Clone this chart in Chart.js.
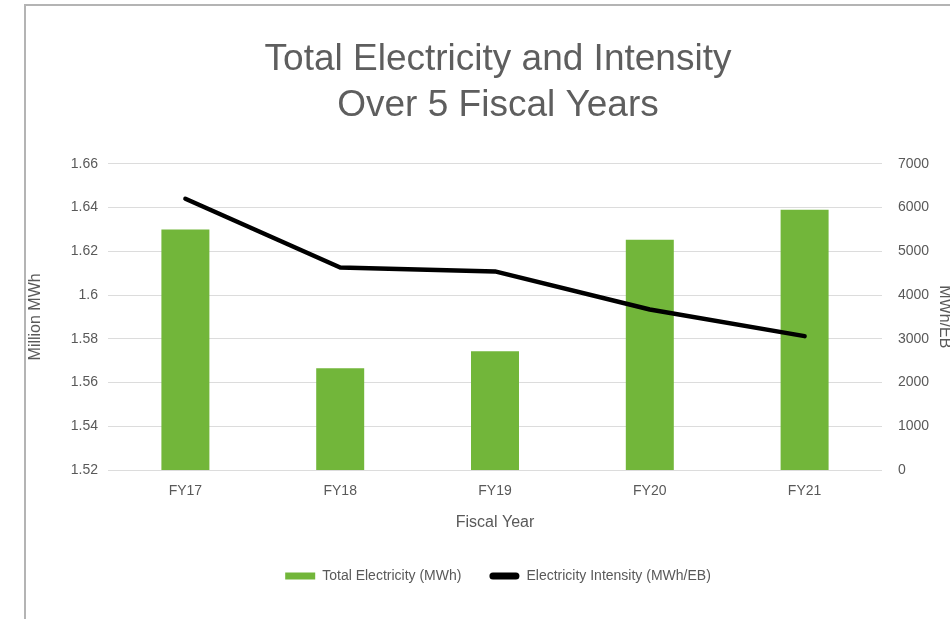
<!DOCTYPE html>
<html>
<head>
<meta charset="utf-8">
<script src="https://cdn.jsdelivr.net/npm/chart.js@4.4.0/dist/chart.umd.min.js"></script>
<style>
  html, body { margin: 0; padding: 0; background: #fff; overflow: hidden; }
  #wrap { position: absolute; left: 24px; top: 4px; width: 944px; height: 640px;
          border-left: 2px solid #b4b4b4; border-top: 2px solid #b4b4b4; }
  canvas { display: block; }
</style>
</head>
<body>
<div id="wrap"><canvas id="chart" width="944" height="605"></canvas></div>
<script>
const years = ["FY17", "FY18", "FY19", "FY20", "FY21"];
const totalElectricity = [1.630, 1.5665, 1.5743, 1.6253, 1.639];
const intensity = [6200, 4630, 4540, 3670, 3060];

const grey = "#595959";
const font = "'Helvetica Neue', 'Liberation Sans', Arial, sans-serif";

const data = {
  labels: years,
  datasets: [
    {
      type: "bar",
      label: "Total Electricity (MWh)",
      data: totalElectricity,
      backgroundColor: "#72b63a",
      yAxisID: "y",
      barPercentage: 0.62,
      categoryPercentage: 0.5,
      order: 2
    },
    {
      type: "line",
      label: "Electricity Intensity (MWh/EB)",
      data: intensity,
      borderColor: "#000",
      backgroundColor: "#000",
      borderWidth: 4.5,
      pointRadius: 0,
      borderCapStyle: "round",
      borderJoinStyle: "round",
      tension: 0,
      yAxisID: "y1",
      order: 1
    }
  ]
};

const config = {
  data: data,
  options: {
    responsive: false,
    animation: false,
    layout: { padding: { top: 31, bottom: 18 } },
    plugins: {
      title: {
        display: true,
        text: ["Total Electricity and Intensity", "Over 5 Fiscal Years"],
        color: "#5e5e5e",
        font: { family: font, size: 37, weight: "300", lineHeight: 1.24 },
        padding: { top: 0, bottom: 35 }
      },
      legend: {
        position: "bottom",
        labels: {
          color: grey,
          font: { family: font, size: 14 },
          boxWidth: 30,
          boxHeight: 7,
          padding: 28,
          generateLabels: function (chart) {
            return chart.data.datasets.map(function (ds, i) {
              return {
                text: ds.label,
                fillStyle: ds.type === "bar" ? ds.backgroundColor : "#000",
                strokeStyle: ds.type === "bar" ? ds.backgroundColor : "#000",
                lineWidth: 0,
                borderRadius: ds.type === "bar" ? 0 : 3.5,
                fontColor: grey,
                datasetIndex: i
              };
            });
          },
          useBorderRadius: true
        }
      },
      tooltip: { enabled: false }
    },
    scales: {
      x: {
        grid: { display: false, drawTicks: false },
        border: { display: false },
        ticks: { color: grey, font: { family: font, size: 14 }, padding: 13 },
        title: {
          display: true, text: "Fiscal Year", color: grey,
          font: { family: font, size: 16 }, padding: { top: 0, bottom: 9 }
        }
      },
      y: {
        position: "left",
        min: 1.52, max: 1.66,
        ticks: {
          stepSize: 0.02, color: grey, padding: 10,
          font: { family: font, size: 14 },
          callback: function (v) { return Math.round(v * 100) / 100; }
        },
        grid: { color: "#dcdcdc", lineWidth: 1, drawTicks: false },
        border: { display: false },
        title: {
          display: true, text: "Million MWh", color: grey,
          font: { family: font, size: 16 }, padding: { top: 0, bottom: 4 }
        },
        afterFit: function (s) { s.width = 82; }
      },
      y1: {
        position: "right",
        min: 0, max: 7000,
        ticks: {
          stepSize: 1000, color: grey, padding: 16,
          font: { family: font, size: 14 },
          callback: function (v) { return String(v); }
        },
        grid: { display: false, drawTicks: false },
        border: { display: false },
        title: {
          display: true, text: "MWh/EB", color: grey,
          font: { family: font, size: 16 }, padding: { top: 16, bottom: 0 }
        },
        afterFit: function (s) { s.width = 88; }
      }
    }
  }
};

const myChart = new Chart(document.getElementById("chart"), config);
</script>
</body>
</html>
